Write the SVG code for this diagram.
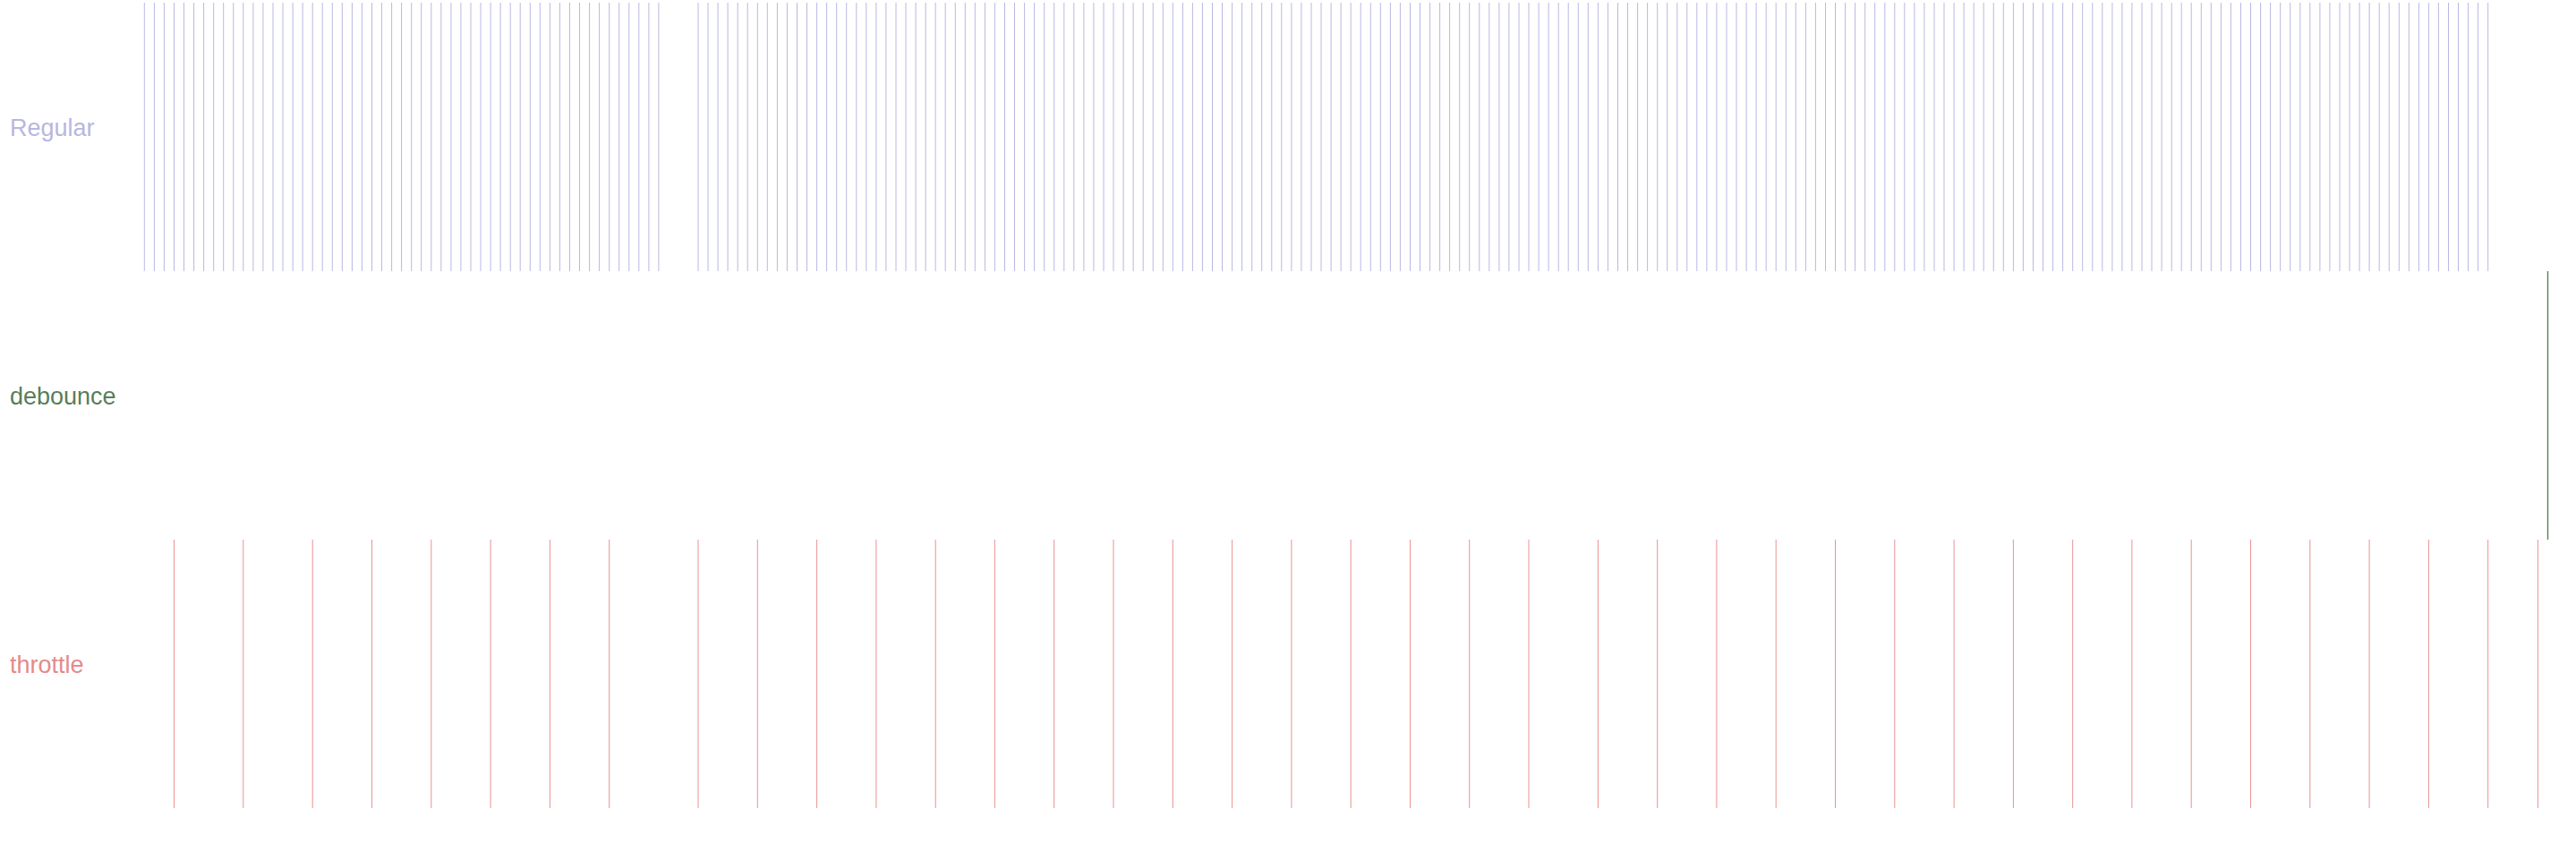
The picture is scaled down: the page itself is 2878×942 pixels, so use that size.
<svg xmlns="http://www.w3.org/2000/svg" width="2878" height="942" viewBox="0 0 2878 942">
<style>
.lbl{font-family:"Liberation Sans",Arial,sans-serif;font-size:27px}
.reg{stroke:#b8b8e4;stroke-width:1;fill:none}
.thr{stroke:#ec9292;stroke-width:1;fill:none}
.deb{stroke:#5c805c;stroke-width:1.4;fill:none}
</style>
<rect width="2878" height="942" fill="#ffffff"/>
<g id="regular">
<text class="lbl" x="11" y="152" fill="#b7b7e0">Regular</text>
<path class="reg" d="M161.3 3V303M172.4 3V303M183.4 3V303M194.5 3V303M205.5 3V303M216.6 3V303M227.6 3V303M238.7 3V303M249.7 3V303M260.8 3V303M271.8 3V303M282.9 3V303M293.9 3V303M305 3V303M316 3V303M327.1 3V303M338.1 3V303M349.2 3V303M360.2 3V303M371.3 3V303M382.3 3V303M393.4 3V303M404.4 3V303M415.5 3V303M426.5 3V303M437.6 3V303M448.6 3V303M459.7 3V303M470.7 3V303M481.8 3V303M492.8 3V303M503.9 3V303M514.9 3V303M526 3V303M537 3V303M548.1 3V303M559.1 3V303M570.2 3V303M581.2 3V303M592.3 3V303M603.3 3V303M614.4 3V303M625.4 3V303M636.5 3V303M647.5 3V303M658.6 3V303M669.6 3V303M680.7 3V303M691.7 3V303M702.8 3V303M713.8 3V303M724.9 3V303M735.9 3V303
M780 3V303M791.05 3V303M802.1 3V303M813.1 3V303M824.2 3V303M835.2 3V303M846.3 3V303M857.3 3V303M868.4 3V303M879.4 3V303M890.5 3V303M901.5 3V303M912.6 3V303M923.6 3V303M934.7 3V303M945.7 3V303M956.8 3V303M967.8 3V303M978.9 3V303M989.9 3V303M1001 3V303M1012 3V303M1023.1 3V303M1034.1 3V303M1045.2 3V303M1056.2 3V303M1067.3 3V303M1078.3 3V303M1089.3 3V303M1100.4 3V303
M1111.4 3V303M1122.5 3V303M1133.5 3V303M1144.6 3V303M1155.6 3V303M1166.7 3V303M1177.7 3V303M1188.8 3V303M1199.8 3V303M1210.9 3V303M1221.9 3V303M1233 3V303M1244 3V303M1255.1 3V303M1266.1 3V303M1277.2 3V303M1288.2 3V303M1299.3 3V303M1310.3 3V303M1321.4 3V303M1332.4 3V303M1343.4 3V303M1354.5 3V303M1365.5 3V303M1376.6 3V303M1387.6 3V303M1398.7 3V303M1409.7 3V303M1420.8 3V303M1431.8 3V303M1442.9 3V303M1453.9 3V303M1465 3V303M1476 3V303M1487.1 3V303M1498.1 3V303M1509.2 3V303M1520.2 3V303M1531.3 3V303M1542.3 3V303
M1553.4 3V303M1564.4 3V303M1575.5 3V303M1586.5 3V303M1597.6 3V303M1608.6 3V303M1619.6 3V303M1630.7 3V303M1641.7 3V303M1652.8 3V303M1663.8 3V303M1674.9 3V303M1685.9 3V303M1697 3V303M1708 3V303M1719.1 3V303M1730.1 3V303M1741.2 3V303M1752.2 3V303M1763.3 3V303M1774.3 3V303M1785.4 3V303M1796.4 3V303M1807.5 3V303M1818.5 3V303M1829.6 3V303M1840.6 3V303M1851.7 3V303M1862.7 3V303M1873.8 3V303M1884.8 3V303M1895.8 3V303M1906.9 3V303M1917.9 3V303M1929 3V303M1940 3V303M1951.1 3V303M1962.1 3V303M1973.2 3V303M1984.2 3V303
M1995.3 3V303M2006.3 3V303M2017.4 3V303M2028.4 3V303M2039.5 3V303M2050.5 3V303M2061.6 3V303M2072.6 3V303M2083.7 3V303M2094.7 3V303M2105.8 3V303M2116.8 3V303M2127.8 3V303M2138.9 3V303M2149.9 3V303M2161 3V303M2172 3V303M2183.1 3V303M2194.1 3V303M2205.2 3V303M2216.2 3V303M2227.3 3V303M2238.3 3V303M2249.4 3V303M2260.4 3V303M2271.5 3V303M2282.5 3V303M2293.6 3V303M2304.6 3V303M2315.7 3V303M2326.7 3V303M2337.8 3V303M2348.8 3V303M2359.9 3V303M2370.9 3V303M2381.9 3V303M2393 3V303M2404 3V303M2415.1 3V303M2426.2 3V303
M2437.2 3V303M2448.2 3V303M2459.3 3V303M2470.3 3V303M2481.4 3V303M2492.4 3V303M2503.5 3V303M2514.5 3V303M2525.6 3V303M2536.6 3V303M2547.7 3V303M2558.7 3V303M2569.8 3V303M2580.8 3V303M2591.9 3V303M2602.9 3V303M2614 3V303M2625 3V303M2636.1 3V303M2647.1 3V303M2658.2 3V303M2669.2 3V303M2680.3 3V303M2691.3 3V303M2702.4 3V303M2713.4 3V303M2724.4 3V303M2735.5 3V303M2746.5 3V303M2757.6 3V303M2768.6 3V303M2779.7 3V303"/>
</g>
<g id="debounce">
<text class="lbl" x="11" y="452" fill="#587e58">debounce</text>
<path class="deb" d="M2846.5 303V603"/>
</g>
<g id="throttle">
<text class="lbl" x="11" y="752" fill="#e48a8a">throttle</text>
<path class="thr" d="M194.5 603V903M271.8 603V903M349.2 603V903M415.5 603V903M481.8 603V903M548.1 603V903M614.4 603V903M680.7 603V903M780 603V903M846.3 603V903M912.6 603V903M978.9 603V903M1045.2 603V903M1111.4 603V903M1177.7 603V903M1244 603V903M1310.3 603V903M1376.6 603V903M1442.9 603V903M1509.2 603V903M1575.5 603V903M1641.7 603V903M1708 603V903M1785.4 603V903M1851.7 603V903M1917.9 603V903M1984.2 603V903M2050.5 603V903M2116.8 603V903M2183.1 603V903M2249.4 603V903M2315.7 603V903M2381.9 603V903M2448.2 603V903M2514.5 603V903M2580.8 603V903M2647.1 603V903M2713.4 603V903M2779.7 603V903M2835.4 603V903"/>
</g>
</svg>
